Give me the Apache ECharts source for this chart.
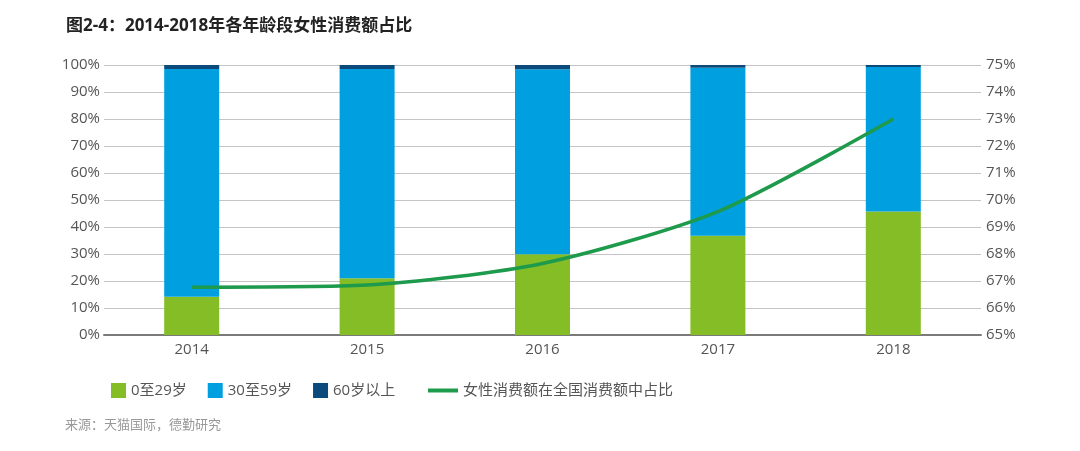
<!DOCTYPE html>
<html>
<head>
<meta charset="utf-8">
<script src="https://cdn.jsdelivr.net/npm/echarts@6/dist/echarts.min.js"></script>
<style>
  html, body { margin: 0; padding: 0; background: #fff; }
  #chart { width: 1080px; height: 451px; }
</style>
</head>
<body>
<div id="chart"></div>
<script>
const years = ['2014', '2015', '2016', '2017', '2018']
const age0to29 = [14.2, 21.0, 29.9, 36.8, 45.7]
const age30to59 = [84.3, 77.5, 68.5, 62.2, 53.6]
const age60plus = [1.5, 1.5, 1.6, 1.0, 0.7]
const femaleShare = [66.77, 66.85, 67.65, 69.57, 73.0]

const font = '"Open Sans", "Noto Sans CJK SC", sans-serif'
const gridColor = '#c4c4c4'

const chart = echarts.init(document.getElementById('chart'))

// 柱子共用的样式
const barBase = {
  type: 'bar',
  stack: 'age',
  barWidth: 55,
  yAxisIndex: 0,
}

const option = {
  animation: false,
  textStyle: { fontFamily: font },
  title: [
    {
      text: '图2-4：2014-2018年各年龄段女性消费额占比',
      left: 61,
      top: 13,
      textStyle: { fontSize: 17, fontWeight: 'bold', color: '#222', fontFamily: font },
    },
    {
      text: '来源：天猫国际，德勤研究',
      left: 60,
      top: 414,
      textStyle: { fontSize: 13, fontWeight: 'normal', color: '#999', fontFamily: font },
    },
  ],
  legend: [
    {
      data: ['0至29岁', '30至59岁', '60岁以上'],
      left: 106,
      top: 378,
      icon: 'rect',
      itemWidth: 15,
      itemHeight: 15,
      itemGap: 21,
      textStyle: { fontSize: 15, color: '#555', fontFamily: font },
    },
    {
      data: [{ name: '女性消费额在全国消费额中占比', icon: 'rect' }],
      left: 423,
      top: 378,
      itemWidth: 30,
      itemHeight: 4,
      textStyle: { fontSize: 15, color: '#555', fontFamily: font },
    },
  ],
  grid: { left: 104, right: 99, top: 65, bottom: 116 },
  xAxis: {
    type: 'category',
    data: years,
    axisTick: { show: false },
    axisLine: { lineStyle: { color: '#7a7a7a', width: 2 } },
    axisLabel: { fontSize: 15, color: '#555', margin: 7 },
  },
  yAxis: [
    {
      type: 'value',
      min: 0,
      max: 100,
      interval: 10,
      axisLabel: { formatter: '{value}%', fontSize: 15, color: '#555', margin: 4 },
      axisTick: { show: false },
      axisLine: { show: false },
      splitLine: { lineStyle: { color: gridColor } },
    },
    {
      type: 'value',
      min: 65,
      max: 75,
      interval: 1,
      position: 'right',
      axisLabel: { formatter: '{value}%', fontSize: 15, color: '#555', margin: 5 },
      axisTick: { show: false },
      axisLine: { show: false },
      splitLine: { show: false },
    },
  ],
  series: [
    { ...barBase, name: '0至29岁', data: age0to29, itemStyle: { color: '#84bd26' } },
    { ...barBase, name: '30至59岁', data: age30to59, itemStyle: { color: '#00a0e0' } },
    { ...barBase, name: '60岁以上', data: age60plus, itemStyle: { color: '#0c4a7c' } },
    {
      name: '女性消费额在全国消费额中占比',
      type: 'line',
      yAxisIndex: 1,
      data: femaleShare,
      smooth: 0.25,
      symbol: 'none',
      lineStyle: { color: '#1d9a4b', width: 3.5 },
      itemStyle: { color: '#1d9a4b' },
      z: 5,
    },
  ],
}

chart.setOption(option)
</script>
</body>
</html>
